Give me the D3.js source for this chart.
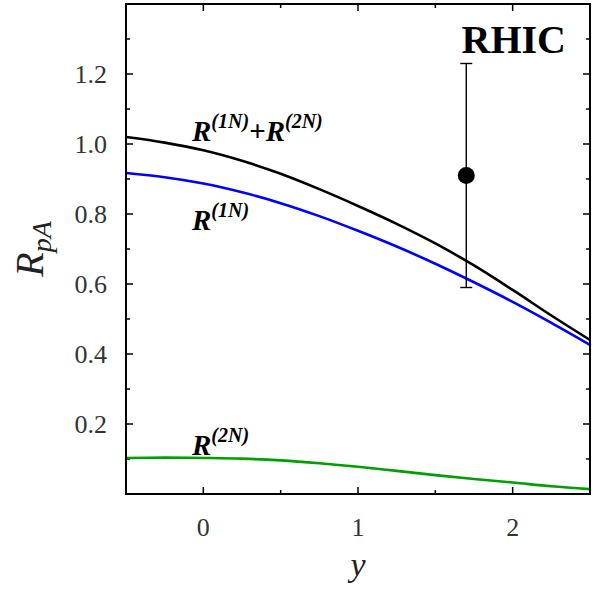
<!DOCTYPE html>
<html>
<head>
<meta charset="utf-8">
<script src="https://cdn.jsdelivr.net/npm/d3@7"></script>
<style>
  body { margin: 0; background: #fff; }
  svg { display: block; }
</style>
</head>
<body>
<div id="chart"></div>
<script>
// rapidity grid and the three curves
const ys = [-0.5, -0.25, 0, 0.25, 0.5, 0.75, 1.0, 1.25, 1.5, 1.75, 2.0, 2.25, 2.5];
const r1N = [0.917, 0.905, 0.887, 0.862, 0.831, 0.794, 0.752, 0.707, 0.658, 0.605, 0.549, 0.489, 0.426];
const r2N = [0.103, 0.104, 0.103, 0.101, 0.096, 0.088, 0.078, 0.066, 0.054, 0.043, 0.033, 0.022, 0.014];
const rSum = [1.02, 1.004, 0.982, 0.952, 0.915, 0.871, 0.823, 0.772, 0.716, 0.653, 0.583, 0.51, 0.44];

// RHIC data point
const point = { y: 1.7, r: 0.91, lo: 0.59, hi: 1.23 };

const yTicks = [0.2, 0.4, 0.6, 0.8, 1.0, 1.2];
const xTicks = [0, 1, 2];

const width = 596;
const height = 596;
const margin = { top: 4, right: 6, bottom: 102, left: 126 };

const svg = d3.select("#chart")
  .append("svg")
  .attr("width", width)
  .attr("height", height);

const x = d3.scaleLinear()
  .domain([-0.5, 2.5])
  .range([margin.left, width - margin.right]);

const y = d3.scaleLinear()
  .domain([0, 1.4])
  .range([height - margin.bottom, margin.top]);

const tickFont = "'Liberation Serif', 'DejaVu Serif', serif";

// inward ticks on all four sides
const major = 7, minor = 4;
const xMinor = d3.range(-0.5, 2.51, 0.5).filter(v => !xTicks.includes(v));
const yMinor = d3.range(0.1, 1.35, 0.2).map(v => +v.toFixed(1));

const tickG = svg.append("g").attr("stroke", "#000").attr("stroke-width", 1.5);
function hTicks(vals, len) {
  vals.forEach(v => {
    tickG.append("line").attr("x1", x.range()[0]).attr("x2", x.range()[0] + len)
      .attr("y1", y(v)).attr("y2", y(v));
    tickG.append("line").attr("x1", x.range()[1]).attr("x2", x.range()[1] - len)
      .attr("y1", y(v)).attr("y2", y(v));
  });
}
function vTicks(vals, len) {
  vals.forEach(v => {
    tickG.append("line").attr("y1", y.range()[0]).attr("y2", y.range()[0] - len)
      .attr("x1", x(v)).attr("x2", x(v));
    tickG.append("line").attr("y1", y.range()[1]).attr("y2", y.range()[1] + len)
      .attr("x1", x(v)).attr("x2", x(v));
  });
}
hTicks(yTicks, major);
hTicks(yMinor, minor);
vTicks(xTicks, major);
vTicks(xMinor, minor);

// tick labels
svg.append("g").selectAll("text")
  .data(yTicks)
  .join("text")
  .attr("x", margin.left - 19)
  .attr("y", d => y(d))
  .attr("dy", "0.35em")
  .attr("text-anchor", "end")
  .attr("font-family", tickFont)
  .attr("font-size", 26)
  .attr("fill", "#333")
  .text(d => d.toFixed(1));

svg.append("g").selectAll("text")
  .data(xTicks)
  .join("text")
  .attr("x", d => x(d))
  .attr("y", y(0) + 42)
  .attr("text-anchor", "middle")
  .attr("font-family", tickFont)
  .attr("font-size", 26)
  .attr("fill", "#333")
  .text(d => d);

// axis titles
svg.append("text")
  .attr("transform", `translate(43, ${y(0.7)}) rotate(-90)`)
  .attr("text-anchor", "middle")
  .attr("font-family", tickFont)
  .attr("font-style", "italic")
  .attr("font-size", 40)
  .attr("fill", "#222")
  .html('R<tspan font-size="28" dy="8">pA</tspan>');

svg.append("text")
  .attr("x", x(1))
  .attr("y", y(0) + 82)
  .attr("text-anchor", "middle")
  .attr("font-family", tickFont)
  .attr("font-style", "italic")
  .attr("font-size", 34)
  .attr("fill", "#222")
  .text("y");

// curves
const line = d3.line()
  .x((d, i) => x(ys[i]))
  .y(d => y(d))
  .curve(d3.curveCatmullRom);

svg.append("defs").append("clipPath").attr("id", "clip")
  .append("rect")
  .attr("x", margin.left).attr("y", margin.top)
  .attr("width", width - margin.left - margin.right)
  .attr("height", height - margin.top - margin.bottom);

const curves = svg.append("g").attr("clip-path", "url(#clip)");
[[r2N, "#00a000"], [r1N, "#0000ff"], [rSum, "#000000"]].forEach(([vals, col]) => {
  curves.append("path")
    .datum(vals)
    .attr("d", line)
    .attr("fill", "none")
    .attr("stroke", col)
    .attr("stroke-width", 2.6);
});

// error bar and point
const eb = svg.append("g").attr("stroke", "#000").attr("stroke-width", 1.4);
eb.append("line").attr("x1", x(point.y)).attr("x2", x(point.y))
  .attr("y1", y(point.hi)).attr("y2", y(point.lo));
[point.hi, point.lo].forEach(v => {
  eb.append("line").attr("x1", x(point.y) - 6).attr("x2", x(point.y) + 6)
    .attr("y1", y(v)).attr("y2", y(v));
});
svg.append("circle")
  .attr("cx", x(point.y))
  .attr("cy", y(point.r))
  .attr("r", 8.5)
  .attr("fill", "#000");

// frame
svg.append("rect")
  .attr("x", margin.left).attr("y", margin.top)
  .attr("width", width - margin.left - margin.right)
  .attr("height", height - margin.top - margin.bottom)
  .attr("fill", "none")
  .attr("stroke", "#000")
  .attr("stroke-width", 2);

// labels
const labFont = "'Liberation Serif', 'Times New Roman', serif";
function label(xp, yp, parts) {
  const t = svg.append("text")
    .attr("x", xp).attr("y", yp)
    .attr("font-family", labFont)
    .attr("font-weight", "bold")
    .attr("font-style", "italic")
    .attr("fill", "#000");
  parts.forEach(p => {
    t.append("tspan")
      .attr("font-size", p.sup ? 20 : 29)
      .attr("dy", p.dy || 0)
      .text(p.t);
  });
}
label(192, 141, [{ t: "R" }, { t: "(1N)", sup: true, dy: -13 }, { t: "+R", dy: 13 }, { t: "(2N)", sup: true, dy: -13 }]);
label(192, 230, [{ t: "R" }, { t: "(1N)", sup: true, dy: -13 }]);
label(192, 455, [{ t: "R" }, { t: "(2N)", sup: true, dy: -13 }]);

svg.append("text")
  .attr("x", 566).attr("y", 53)
  .attr("text-anchor", "end")
  .attr("font-family", labFont)
  .attr("font-weight", "bold")
  .attr("font-size", 40)
  .attr("fill", "#000")
  .text("RHIC");
</script>
</body>
</html>
